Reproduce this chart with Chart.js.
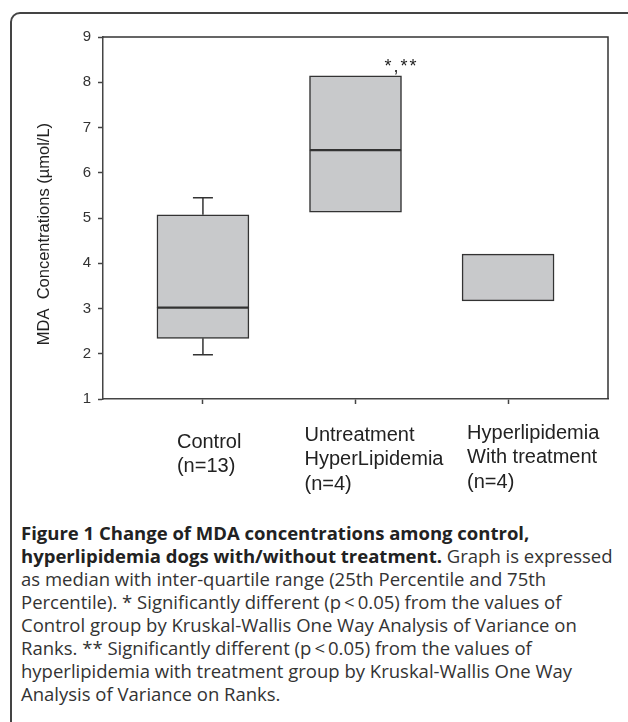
<!DOCTYPE html>
<html>
<head>
<meta charset="utf-8">
<script src="https://cdn.jsdelivr.net/npm/chart.js@4.4.1/dist/chart.umd.min.js"></script>
<style>
  html, body { margin: 0; padding: 0; background: #fff; overflow: hidden; }
  body { width: 628px; height: 722px; position: relative; }
  /* figure frame, open to the right and bottom like the cropped original */
  #frame { position: absolute; left: 10px; top: 12px; width: 700px; height: 800px;
           border: 2px solid #444; border-radius: 10px; }
  #wrap { position: absolute; left: 0; top: 0; width: 628px; height: 520px; }
  #caption { position: absolute; left: 21px; top: 521px; font-family: 'Open Sans', sans-serif;
             font-size: 18.5px; line-height: 23px; color: #333; white-space: nowrap; }
  #caption b { color: #222; }
</style>
</head>
<body>
<div id="frame"></div>
<div id="wrap"><canvas id="chart" width="628" height="520"></canvas></div>
<div id="caption">
  <b>Figure 1 Change of MDA concentrations among control,</b><br>
  <b>hyperlipidemia dogs with/without treatment.</b> Graph is expressed<br>
  as median with inter-quartile range (25th Percentile and 75th<br>
  Percentile). * Significantly different (p&thinsp;&lt;&thinsp;0.05) from the values of<br>
  Control group by Kruskal-Wallis One Way Analysis of Variance on<br>
  Ranks. ** Significantly different (p&thinsp;&lt;&thinsp;0.05) from the values of<br>
  hyperlipidemia with treatment group by Kruskal-Wallis One Way<br>
  Analysis of Variance on Ranks.
</div>
<script>
// 数据：每组的箱线图数值
const categories = [
  ['Control', '(n=13)'],
  ['Untreatment', 'HyperLipidemia', '(n=4)'],
  ['Hyperlipidemia', 'With treatment', '(n=4)']
];
const positions = [1, 2, 3];
const q1 = [2.34, 5.13, 3.17];
const medians = [3.02, 6.50, 3.17];
const q3 = [5.07, 8.14, 4.20];
const whiskerLow = [1.98, null, null];
const whiskerHigh = [5.45, null, null];
const yTicks = [1, 2, 3, 4, 5, 6, 7, 8, 9];
const marks = ['', '*,**', ''];

// 样式：标签相对刻度的偏移
const labelDx = [-26, -51, -41];
const labelDy = [43, 36, 34];

const boxFill = '#c8c9cb';
const lineColor = '#333';

// 须线、顶部/右侧边框、类别标签、显著性标记
const boxExtras = {
  id: 'boxExtras',
  afterDatasetsDraw(chart) {
    const { ctx, chartArea: a, scales: { x, y } } = chart;
    ctx.save();
    ctx.strokeStyle = lineColor;
    ctx.lineWidth = 1.5;
    positions.forEach((p, i) => {
      const cx = x.getPixelForValue(p);
      [[whiskerLow[i], q1[i]], [whiskerHigh[i], q3[i]]].forEach(([w, edge]) => {
        if (w == null) return;
        const wy = y.getPixelForValue(w);
        ctx.beginPath();
        ctx.moveTo(cx, y.getPixelForValue(edge));
        ctx.lineTo(cx, wy);
        ctx.moveTo(cx - 10, wy);
        ctx.lineTo(cx + 10, wy);
        ctx.stroke();
      });
    });
    // plot box top and right
    ctx.beginPath();
    ctx.moveTo(a.left, a.top);
    ctx.lineTo(a.right, a.top);
    ctx.lineTo(a.right, a.bottom);
    ctx.stroke();

    // category labels
    ctx.fillStyle = '#222';
    ctx.font = '20px "Liberation Sans", Arial, sans-serif';
    ctx.textAlign = 'left';
    ctx.textBaseline = 'middle';
    categories.forEach((lines, i) => {
      const cx = x.getPixelForValue(positions[i]);
      lines.forEach((t, j) => ctx.fillText(t, cx + labelDx[i], a.bottom + labelDy[i] + j * 24.5));
    });

    // significance marks
    ctx.font = '18px "Liberation Sans", Arial, sans-serif';
    ctx.textBaseline = 'alphabetic';
    ctx.letterSpacing = '2px';
    marks.forEach((m, i) => {
      if (!m) return;
      ctx.fillText(m, x.getPixelForValue(positions[i]) + 29, y.getPixelForValue(q3[i]) - 4);
    });
    ctx.restore();
  }
};

const ctx = document.getElementById('chart').getContext('2d');
new Chart(ctx, {
  type: 'bar',
  data: {
    datasets: [
      {
        label: 'lower',
        data: positions.map((p, i) => ({ x: p, y: [q1[i], medians[i]] })),
        backgroundColor: boxFill, borderColor: lineColor, borderWidth: 1.5,
        borderSkipped: false, grouped: false, barThickness: 92
      },
      {
        label: 'upper',
        data: positions.map((p, i) => ({ x: p, y: [medians[i], q3[i]] })),
        backgroundColor: boxFill, borderColor: lineColor, borderWidth: 1.5,
        borderSkipped: false, grouped: false, barThickness: 92
      }
    ]
  },
  options: {
    responsive: false,
    animation: false,
    layout: { padding: { top: 37, right: 20, bottom: 0, left: 0 } },
    plugins: { legend: { display: false }, tooltip: { enabled: false } },
    scales: {
      x: {
        type: 'linear', min: 0.345, max: 3.655, offset: false,
        afterBuildTicks: s => { s.ticks = positions.map(v => ({ value: v })); },
        afterFit: s => { s.height = 121; },
        grid: { offset: false, drawOnChartArea: false, tickLength: 5, color: '#444', tickWidth: 1.5 },
        border: { color: '#444', width: 1.5 },
        ticks: { display: false }
      },
      y: {
        min: 1, max: 9,
        afterBuildTicks: s => { s.ticks = yTicks.map(v => ({ value: v })); },
        afterFit: s => { s.width = 103; },
        grid: { drawOnChartArea: false, tickLength: 5, color: '#444', tickWidth: 1.5 },
        border: { color: '#444', width: 1.5 },
        ticks: { color: '#333', padding: 7, font: { family: '"Liberation Sans", Arial', size: 15 } },
        title: {
          display: true, text: 'MDA  Concentrations (µmol/L)' + '\u00a0'.repeat(7), color: '#222',
          font: { family: '"Liberation Sans", Arial', size: 16.5 },
          padding: { top: 35, bottom: 0 }
        }
      }
    }
  },
  plugins: [boxExtras]
});
</script>
</body>
</html>
